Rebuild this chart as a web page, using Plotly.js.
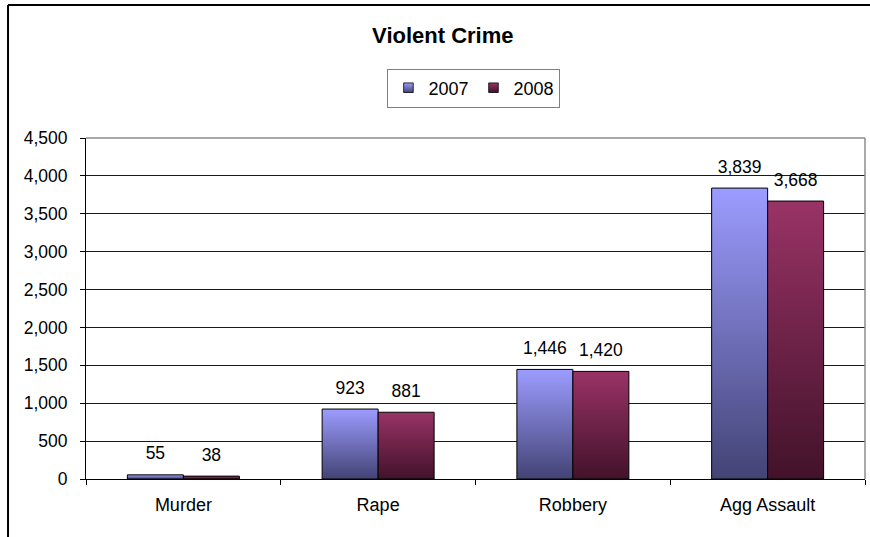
<!DOCTYPE html>
<html>
<head>
<meta charset="utf-8">
<script src="https://cdn.plot.ly/plotly-3.0.1.min.js"></script>
<style>
  html, body { margin: 0; padding: 0; background: #fff; }
  #chart { width: 870px; height: 537px; }
</style>
</head>
<body>
<div id="chart"></div>
<script>
const categories = ["Murder", "Rape", "Robbery", "Agg Assault"];
const seriesNames = ["2007", "2008"];
const values2007 = [55, 923, 1446, 3839];
const values2008 = [38, 881, 1420, 3668];
const yTickValues = [0, 500, 1000, 1500, 2000, 2500, 3000, 3500, 4000, 4500];

const FONT = "Liberation Sans, Arial, sans-serif";
const gradients = [
  { id: "g2007", top: "#9C9CFF", bottom: "#434375", mid: "#7070C0" },
  { id: "g2008", top: "#993366", bottom: "#42122A", mid: "#702448" }
];

function barTrace(name, vals, g) {
  return {
    type: "bar",
    name: name,
    x: categories,
    y: vals,
    marker: { color: g.mid, line: { color: "#000000", width: 1 } },
    hoverinfo: "none"
  };
}

function labelTrace(name, vals) {
  return {
    type: "scatter",
    mode: "markers+text",
    name: name + " labels",
    x: categories,
    y: vals,
    text: vals.map(v => v.toLocaleString("en-US")),
    textposition: "top center",
    textfont: { family: FONT, size: 17.5, color: "#000000" },
    marker: { size: 16, opacity: 0, color: "#ffffff" },
    cliponaxis: false,
    showlegend: false,
    hoverinfo: "none"
  };
}

const data = [
  barTrace(seriesNames[0], values2007, gradients[0]),
  barTrace(seriesNames[1], values2008, gradients[1]),
  labelTrace(seriesNames[0], values2007),
  labelTrace(seriesNames[1], values2008)
];

const layout = {
  width: 870,
  height: 537,
  paper_bgcolor: "#ffffff",
  plot_bgcolor: "#ffffff",
  margin: { l: 86, r: 5, t: 138, b: 58, pad: 0 },
  font: { family: FONT, size: 17.5, color: "#000000" },
  title: {
    text: "<b>Violent Crime</b>",
    font: { family: FONT, size: 22, color: "#000000" },
    x: 0.509, xref: "container", xanchor: "center",
    y: 0.935, yref: "container", yanchor: "middle"
  },
  barmode: "group",
  bargap: 0.425,
  bargroupgap: 0,
  scattermode: "group",
  scattergap: 0.425,
  showlegend: true,
  legend: {
    orientation: "h",
    x: 0.498, xanchor: "center",
    y: 1.1466, yanchor: "middle",
    bordercolor: "#808080",
    borderwidth: 1,
    bgcolor: "#ffffff",
    font: { family: FONT, size: 18, color: "#000000" },
    itemwidth: 30,
    tracegroupgap: 0
  },
  xaxis: {
    type: "category",
    showgrid: false,
    showline: true,
    linecolor: "#000000",
    linewidth: 1,
    ticks: "outside",
    tickson: "boundaries",
    ticklen: 5,
    tickcolor: "#000000",
    ticklabelstandoff: 9,
    tickfont: { family: FONT, size: 18, color: "#000000" },
    zeroline: false,
    fixedrange: true
  },
  yaxis: {
    range: [0, 4500],
    tickvals: yTickValues,
    tickformat: ",d",
    showgrid: true,
    gridcolor: "#1a1a1a",
    gridwidth: 1,
    showline: true,
    linecolor: "#000000",
    linewidth: 1,
    ticks: "outside",
    ticklen: 5,
    tickcolor: "#000000",
    ticklabelstandoff: 9,
    tickfont: { family: FONT, size: 17.5, color: "#000000" },
    zeroline: false,
    fixedrange: true
  },
  shapes: [
    { type: "line", xref: "paper", yref: "paper", x0: 0, x1: 1, y0: 1, y1: 1,
      line: { color: "#8c8c8c", width: 1.5 }, layer: "above" },
    { type: "line", xref: "paper", yref: "paper", x0: 1, x1: 1, y0: 0, y1: 1,
      line: { color: "#8c8c8c", width: 1.5 }, layer: "above" },
    { type: "line", xref: "paper", yref: "paper", x0: -0.1001, x1: -0.1001, y0: -0.2, y1: 1.39,
      line: { color: "#000000", width: 2 }, layer: "above" },
    { type: "line", xref: "paper", yref: "paper", x0: -0.1001, x1: 1.1, y0: 1.39, y1: 1.39,
      line: { color: "#000000", width: 2 }, layer: "above" }
  ]
};

function applyGradients(gd) {
  const svg = gd.querySelector("svg.main-svg");
  if (!svg) return;
  const ns = "http://www.w3.org/2000/svg";
  let defs = svg.querySelector("defs");
  if (!defs) { defs = document.createElementNS(ns, "defs"); svg.insertBefore(defs, svg.firstChild); }
  gradients.forEach(g => {
    if (svg.querySelector("#" + g.id)) return;
    const lg = document.createElementNS(ns, "linearGradient");
    lg.setAttribute("id", g.id);
    lg.setAttribute("x1", "0"); lg.setAttribute("y1", "0");
    lg.setAttribute("x2", "0"); lg.setAttribute("y2", "1");
    const s1 = document.createElementNS(ns, "stop");
    s1.setAttribute("offset", "0%"); s1.setAttribute("stop-color", g.top);
    const s2 = document.createElementNS(ns, "stop");
    s2.setAttribute("offset", "100%"); s2.setAttribute("stop-color", g.bottom);
    lg.appendChild(s1); lg.appendChild(s2);
    defs.appendChild(lg);
  });
  const barTraces = gd.querySelectorAll(".barlayer .trace");
  barTraces.forEach((t, i) => {
    const g = gradients[i];
    if (!g) return;
    t.querySelectorAll(".point path").forEach(p => { p.style.fill = "url(#" + g.id + ")"; });
  });
  const legTraces = gd.querySelectorAll(".legend .traces");
  legTraces.forEach((t, i) => {
    const g = gradients[i];
    if (!g) return;
    t.querySelectorAll(".legendpoints path").forEach(p => {
      p.style.fill = "url(#" + g.id + ")";
      const tr = p.getAttribute("transform") || "";
      p.setAttribute("transform", (tr + " scale(0.8)").trim());
    });
  });
}

const gd = document.getElementById("chart");
Plotly.newPlot(gd, data, layout, { staticPlot: true, displayModeBar: false }).then(applyGradients);
</script>
</body>
</html>
